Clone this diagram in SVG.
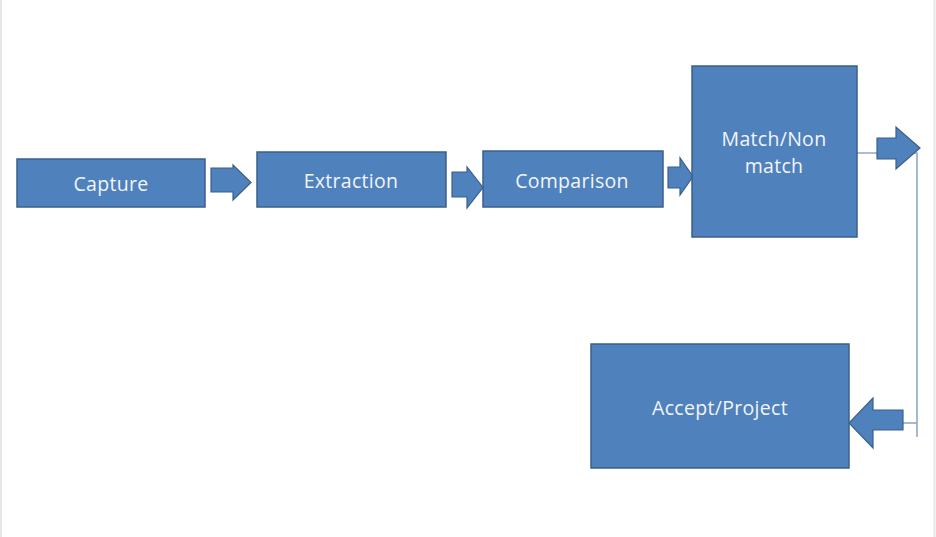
<svg xmlns="http://www.w3.org/2000/svg" width="936" height="537" viewBox="0 0 936 537">
<style>
.box{fill:#4F81BD;stroke:#3A5F8C;stroke-width:1.5}
.arr{fill:#4F81BD;stroke:#3A5F8C;stroke-width:1.2;stroke-linejoin:miter}
.t{font-family:"Open Sans","Liberation Sans",sans-serif;font-size:19.5px;fill:#F2F5FA;text-anchor:middle;letter-spacing:0.3px}
.ln{fill:none;stroke:#8FA8C6;stroke-width:1.6}
</style>
<rect x="0" y="0" width="936" height="537" fill="#FFFFFF"/>
<line x1="1" y1="0" x2="1" y2="537" stroke="#E6E6E6" stroke-width="2"/>
<line x1="934.5" y1="0" x2="934.5" y2="537" stroke="#E6E6E6" stroke-width="2"/>
<g id="connectors">
<polyline class="ln" points="857,153 917,153 917,437"/>
<line class="ln" x1="903" y1="423" x2="917" y2="423"/>
<polygon class="arr" points="211,168 233,168 233,165 251,182.5 233,200 233,192 211,192"/>
<polygon class="arr" points="452,172 467,172 467,167 483,187.5 467,208 467,197 452,197"/>
<polygon class="arr" points="668,167 680,167 680,158 693,176.5 680,195 680,188 668,188"/>
<polygon class="arr" points="877,138 896,138 896,127 920,148 896,169 896,159 877,159"/>
<polygon class="arr" points="903,410 873,410 873,398 849,423 873,448 873,430 903,430"/>
</g>
<g id="capture"><rect class="box" x="17" y="159" width="188" height="48"/><text class="t" x="111" y="191">Capture</text></g>
<g id="extraction"><rect class="box" x="257" y="152" width="189" height="55"/><text class="t" x="351" y="188">Extraction</text></g>
<g id="comparison"><rect class="box" x="483" y="151" width="180" height="56"/><text class="t" x="572" y="188">Comparison</text></g>
<g id="match"><rect class="box" x="692" y="66" width="165" height="171"/><text class="t" x="774" y="146">Match/Non</text><text class="t" x="774" y="173">match</text></g>
<g id="accept"><rect class="box" x="591" y="344" width="258" height="124"/><text class="t" x="720" y="415">Accept/Project</text></g>
</svg>
